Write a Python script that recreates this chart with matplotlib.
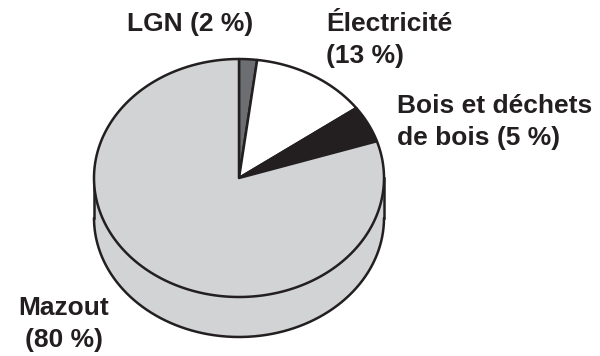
import numpy as np
import matplotlib.pyplot as plt
from matplotlib.patches import Polygon

plt.rcParams['font.family'] = ['Liberation Sans', 'DejaVu Sans']

# Energy sources and their share (%)
labels = ["LGN (2 %)", "Électricité\n(13 %)", "Bois et déchets\nde bois (5 %)", "Mazout\n(80 %)"]
shares = [2, 13, 5, 80]
colors = ["#6d6e71", "#ffffff", "#231f20", "#d1d3d4"]

# Pie geometry in pixel units
cx, cy = 239, 178
rx, ry = 145, 119
depth = 40
lw = 1.8

fig = plt.figure(figsize=(6.0, 3.56), dpi=100)
ax = fig.add_axes([0, 0, 1, 1])
ax.set_xlim(0, 600)
ax.set_ylim(356, 0)
ax.axis("off")


def pt(t, dy=0):
    # t measured clockwise from the top, in radians
    return cx + rx * np.sin(t), cy - ry * np.cos(t) + dy


bounds = np.concatenate([[0], np.cumsum(shares)]) / 100 * 2 * np.pi

# Side wall: only the front half (t between pi/2 and 3pi/2) is visible
for i in range(len(shares)):
    a, b = max(bounds[i], np.pi / 2), min(bounds[i + 1], 3 * np.pi / 2)
    if b <= a:
        continue
    t = np.linspace(a, b, 200)
    x, y = pt(t)
    xs = np.concatenate([x, x[::-1]])
    ys = np.concatenate([y, (y + depth)[::-1]])
    ax.add_patch(Polygon(np.column_stack([xs, ys]), closed=True,
                         facecolor=colors[i], edgecolor="none", zorder=1))

# outline of the side wall
t = np.linspace(np.pi / 2, 3 * np.pi / 2, 400)
x, y = pt(t, depth)
ax.plot(x, y, color="#231f20", lw=lw, zorder=2, solid_capstyle="round")
for tt in (np.pi / 2, 3 * np.pi / 2):
    x0, y0 = pt(tt)
    ax.plot([x0, x0], [y0, y0 + depth], color="#231f20", lw=lw, zorder=2)

# Top face wedges
for i in range(len(shares)):
    t = np.linspace(bounds[i], bounds[i + 1], 300)
    x, y = pt(t)
    xs = np.concatenate([[cx], x])
    ys = np.concatenate([[cy], y])
    ax.add_patch(Polygon(np.column_stack([xs, ys]), closed=True,
                         facecolor=colors[i], edgecolor="#231f20", lw=lw,
                         joinstyle="round", zorder=3))

# Labels
txt = dict(fontsize=19, fontweight="bold", color="#231f20", linespacing=1.38)
ax.text(190, 24, labels[0], ha="center", va="center", **txt)
ax.text(326, 40, labels[1], ha="left", va="center", **txt)
ax.text(397, 122, labels[2], ha="left", va="center", **txt)
ax.text(64, 324, labels[3], ha="center", va="center", **txt)

fig.savefig("out.png", dpi=100)
